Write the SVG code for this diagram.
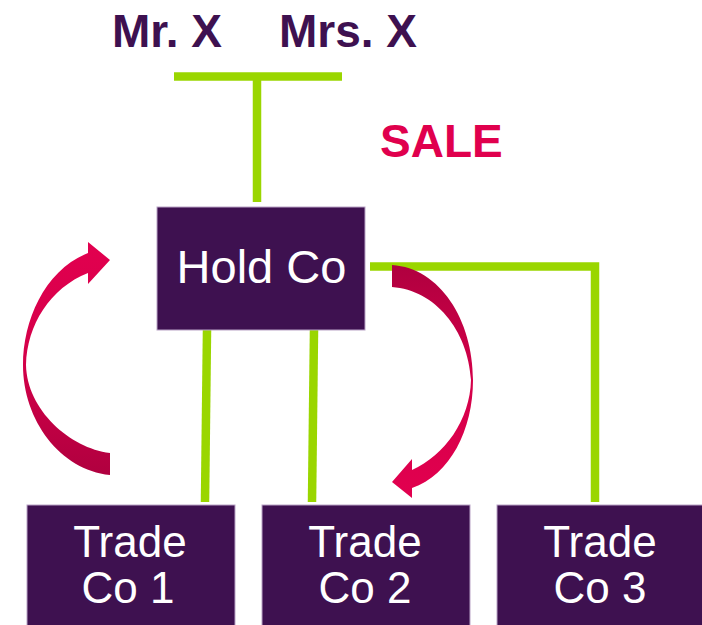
<svg xmlns="http://www.w3.org/2000/svg" width="702" height="625" viewBox="0 0 702 625">
<style>
.box{fill:#3e1150;stroke:#b9a3c6;stroke-width:1}
.lbl{font-family:"Liberation Sans",Arial,sans-serif;fill:#ffffff;text-anchor:middle}
.name{font-family:"Liberation Sans",Arial,sans-serif;font-weight:bold;font-size:46px;fill:#3e1150}
.ln{stroke:#9ad600;stroke-width:8.5;fill:none}
</style>
<defs>
<linearGradient id="gUp" x1="0" y1="0" x2="0" y2="1">
<stop offset="0" stop-color="#e2004f"/>
<stop offset="0.5" stop-color="#d40049"/>
<stop offset="1" stop-color="#b0003f"/>
</linearGradient>
<linearGradient id="gDown" x1="0" y1="0" x2="0" y2="1">
<stop offset="0" stop-color="#b0003f"/>
<stop offset="0.5" stop-color="#d40049"/>
<stop offset="1" stop-color="#e2004f"/>
</linearGradient>
</defs>
<rect width="702" height="625" fill="#ffffff"/>
<g id="connectors">
<line class="ln" x1="174" y1="76.5" x2="342" y2="76.5"/>
<line class="ln" x1="257" y1="76" x2="257" y2="202"/>
<line class="ln" x1="207" y1="330" x2="205" y2="502"/>
<line class="ln" x1="314" y1="330" x2="312" y2="502"/>
<polyline class="ln" points="370,266.5 595,266.5 595,502"/>
</g>
<g id="mr-x"><text class="name" x="112" y="47">Mr. X</text></g>
<g id="mrs-x"><text class="name" x="279" y="47">Mrs. X</text></g>
<g id="sale"><text x="380" y="157" font-family="Liberation Sans, Arial, sans-serif" font-weight="bold" font-size="46" fill="#e0004d">SALE</text></g>
<g id="hold-co">
<rect class="box" x="157" y="207" width="208" height="123"/>
<text class="lbl" x="261.5" y="283" font-size="47">Hold Co</text>
</g>
<g id="trade-co-1">
<rect class="box" x="27" y="505" width="208" height="125"/>
<text class="lbl" x="130" y="557" font-size="44">Trade</text>
<text class="lbl" x="128" y="603" font-size="44">Co 1</text>
</g>
<g id="trade-co-2">
<rect class="box" x="262" y="505" width="208" height="125"/>
<text class="lbl" x="365" y="557" font-size="44">Trade</text>
<text class="lbl" x="365" y="603" font-size="44">Co 2</text>
</g>
<g id="trade-co-3">
<rect class="box" x="497" y="505" width="210" height="125"/>
<text class="lbl" x="600" y="557" font-size="44">Trade</text>
<text class="lbl" x="600" y="603" font-size="44">Co 3</text>
</g>
<g id="arrow-left">
<path fill="url(#gUp)" d="M 110 475 C 60 470 23 420 23 365 C 23 320 45 270 88 253 L 88 242 L 110 260 L 88 284 L 88 273 C 50 288 27 325 26 365 C 27 410 70 448 110 453 Z"/>
</g>
<g id="arrow-right">
<path fill="url(#gDown)" d="M 392 265 C 440 268 473 320 473 380 C 473 430 450 475 412 488 L 412 498 L 392 482 L 412 459 L 412 470 C 445 455 470 420 471 380 C 468 330 435 290 392 287 Z"/>
</g>
</svg>
